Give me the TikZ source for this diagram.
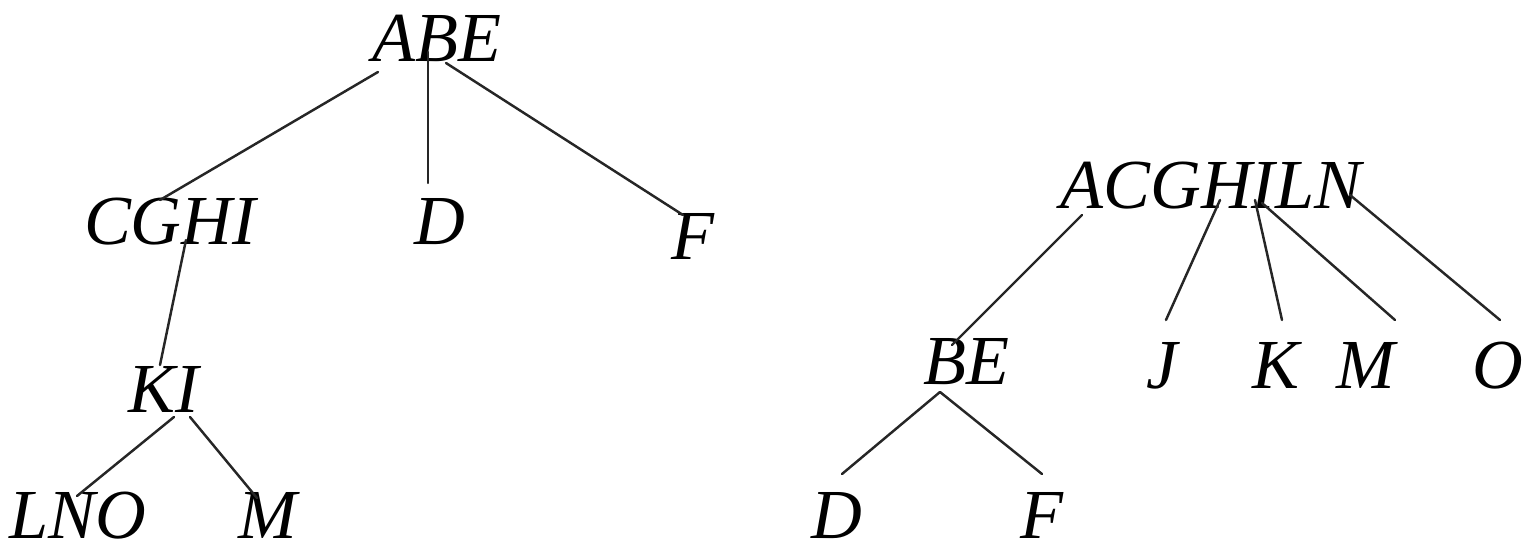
\documentclass[tikz,border=0pt]{standalone}
\usepackage{fontspec}
\setmainfont{Liberation Serif}
\usetikzlibrary{positioning, calc}
\tikzset{
  lbl/.style={font=\fontsize{20}{24}\selectfont\itshape, inner sep=0pt, anchor=base},
  branch/.style={line width=0.7pt, color=black!85, line cap=round},
}

\begin{document}
\begin{tikzpicture}
    \useasboundingbox (0,0) rectangle (15.35,5.51);

    % left tree
    \node[lbl] (abe)  at (4.37,4.89) {ABE};
    \node[lbl] (cghi) at (1.70,3.06) {CGHI};
    \node[lbl] (dl)   at (4.40,3.06) {D};
    \node[lbl] (fl)   at (6.93,2.91) {F};
    \node[lbl] (ki)   at (1.64,1.39) {KI};
    \node[lbl] (lno)  at (0.78,0.13) {LNO};
    \node[lbl] (ml)   at (2.68,0.13) {M};

    \draw[branch] ([shift={(-0.59,-0.10)}]abe.base) -- ([shift={(-0.10,0.45)}]cghi.base);
    \draw[branch] ([shift={(-0.09,0.10)}]abe.base)  -- ([shift={(-0.12,0.62)}]dl.base);
    \draw[branch] ([shift={(0.09,-0.01)}]abe.base)  -- ([shift={(-0.10,0.45)}]fl.base);
    \draw[branch] ([shift={(0.16,0.05)}]cghi.base)  -- ([shift={(-0.04,0.47)}]ki.base);
    \draw[branch] ([shift={(0.10,-0.05)}]ki.base)   -- ([shift={(-0.01,0.42)}]lno.base);
    \draw[branch] ([shift={(0.26,-0.05)}]ki.base)   -- ([shift={(-0.11,0.40)}]ml.base);

    % right tree
    \node[lbl] (acg) at (12.11,3.43) {ACGHILN};
    \node[lbl] (be)  at (9.66,1.67)  {BE};
    \node[lbl] (j)   at (11.62,1.63) {J};
    \node[lbl] (k)   at (12.76,1.63) {K};
    \node[lbl] (mr)  at (13.66,1.63) {M};
    \node[lbl] (o)   at (14.98,1.63) {O};
    \node[lbl] (dr)  at (8.37,0.13)  {D};
    \node[lbl] (fr)  at (10.42,0.13) {F};

    \draw[branch] ([shift={(-1.29,-0.07)}]acg.base) -- ([shift={(-0.14,0.39)}]be.base);
    \draw[branch] ([shift={(0.09,0.08)}]acg.base)   -- ([shift={(0.04,0.68)}]j.base);
    \draw[branch] ([shift={(0.44,0.08)}]acg.base)   -- ([shift={(0.06,0.68)}]k.base);
    \draw[branch] ([shift={(0.51,0.05)}]acg.base)   -- ([shift={(0.29,0.68)}]mr.base);
    \draw[branch] ([shift={(1.39,0.13)}]acg.base)   -- ([shift={(0.02,0.68)}]o.base);
    \draw[branch] ([shift={(-0.26,-0.08)}]be.base)  -- ([shift={(0.05,0.64)}]dr.base);
    \draw[branch] ([shift={(-0.26,-0.08)}]be.base)  -- ([shift={(0.00,0.64)}]fr.base);
\end{tikzpicture}
\end{document}
